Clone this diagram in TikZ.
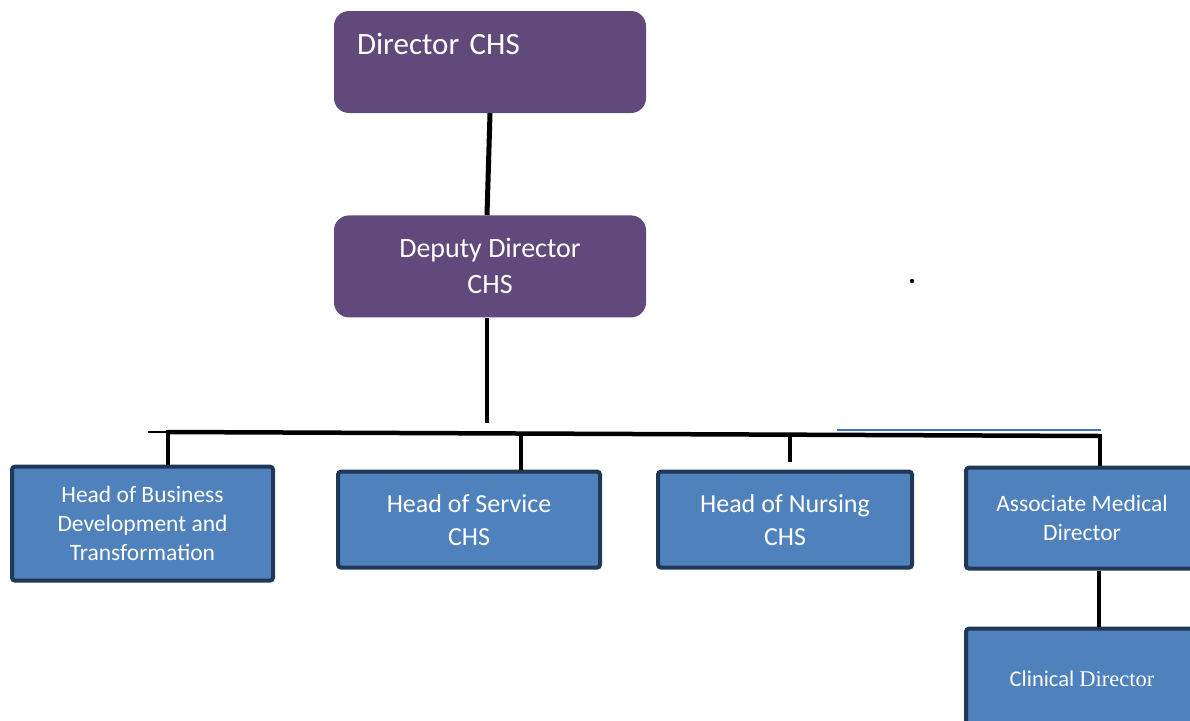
\documentclass[tikz,border=0pt]{standalone}
\usepackage{fontspec}
\setmainfont{Carlito}
\newfontfamily\serifdir{Liberation Serif}
\usetikzlibrary{positioning}
\definecolor{chspurple}{RGB}{97,74,123}
\definecolor{chsblue}{RGB}{79,129,189}
\definecolor{chsnavy}{RGB}{33,55,86}
\definecolor{chsthinblue}{RGB}{68,114,196}

\begin{document}
\begin{tikzpicture}
[
x=1pt, y=1pt,
chart purplebox/.style={rectangle, rounded corners=15pt, fill=chspurple, text=white, align=center, minimum width=312pt, minimum height=102pt, inner sep=0pt},
chart bluebox/.style={rectangle, rounded corners=3pt, draw=chsnavy, line width=4pt, fill=chsblue, text=white, align=center, inner sep=0pt},
chart hugetext/.style={font=\fontsize{31}{36}\selectfont},
chart bigtext/.style={font=\fontsize{28}{36}\selectfont},
chart midtext/.style={font=\fontsize{26}{33}\selectfont},
chart smalltext/.style={font=\fontsize{23.5}{29}\selectfont},
chart line/.style={line width=4.5pt},
chart thinline/.style={line width=1.5pt}
]
\useasboundingbox (0,0) rectangle (1190,-720);
\clip (0,0) rectangle (1190,-720);

% Directors
\node[chart purplebox, chart hugetext, align=left, text width=266pt, inner xsep=23pt, text height=43pt, text depth=59pt] (DC) at (490,-62) {Director CHS};
\node[chart purplebox, chart bigtext, below=102pt of DC] (DD) {Deputy Director\\CHS};

% Heads
\node[chart bluebox, chart midtext, minimum width=262pt, minimum height=96pt, below=152pt of DD, xshift=-21pt] (HS) {Head of Service\\CHS};
\node[chart bluebox, chart smalltext, minimum width=261pt, minimum height=114pt, left=61pt of HS, yshift=-4pt] (HB) {Head of Business\\Development and\\Transformation};
\node[chart bluebox, chart midtext, minimum width=254pt, minimum height=96pt, right=54pt of HS] (HN) {Head of Nursing\\CHS};
\node[chart bluebox, chart smalltext, minimum width=232pt, minimum height=101pt, right=50pt of HN, yshift=1.5pt] (AM) {Associate Medical\\Director};
\node[chart bluebox, font=\fontsize{22.5}{28}\selectfont, minimum width=232pt, minimum height=100pt, below=56pt of AM] (CD) {Clinical {\serifdir Director}};

% bus
\coordinate (busL) at (168,-432);
\coordinate (busS) at (521,-434);
\coordinate (busN) at (790,-435);
\coordinate (busR) at (1100,-436);
\coordinate (tickL) at (148,-432);
\coordinate (blueL) at (837,-430);
\coordinate (blueR) at (1101,-430);
\coordinate (DDend) at (487,-423);
\coordinate (HNend) at (790,-462);

\draw[line width=5pt] (DC.south) -- ([xshift=-3pt]DD.north);
\draw[chart line] ([xshift=-3pt]DD.south) -- (DDend);
\draw[chart line] (busL) -- (busR);
\draw[chart thinline] (tickL) -- (busL);
\draw[chart thinline, chsthinblue] (blueL) -- (blueR);

% drops
\draw[chart line] ([yshift=2pt]busL) -- (busL |- HB.north);
\draw[chart line] (busS) -- (busS |- HS.north);
\draw[chart line] (busN) -- (HNend);
\draw[chart line] ([yshift=2pt]busR) -- ([xshift=18pt]AM.north);
\draw[chart line] ([xshift=17pt]AM.south) -- ([xshift=17pt]CD.north);

% dot
\fill (912,-281) circle (2.2pt);

\end{tikzpicture}
\end{document}
